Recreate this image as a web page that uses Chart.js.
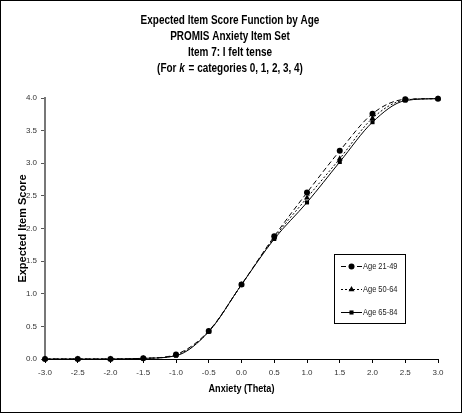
<!DOCTYPE html>
<html>
<head>
<meta charset="utf-8">
<script src="https://cdn.jsdelivr.net/npm/chart.js@4.4.1/dist/chart.umd.min.js"></script>
<style>
html,body{margin:0;padding:0;background:#fff;}
#wrap{position:absolute;left:0;top:0;width:463px;height:414px;}
</style>
</head>
<body>
<div id="wrap"><canvas id="c" width="463" height="414"></canvas></div>
<script>
const theta = [-3.0, -2.5, -2.0, -1.5, -1.0, -0.5, 0.0, 0.5, 1.0, 1.5, 2.0, 2.5, 3.0];
const age2149 = [0.00, 0.00, 0.00, 0.01, 0.07, 0.43, 1.14, 1.88, 2.55, 3.19, 3.76, 3.98, 3.99];
const age5064 = [0.00, 0.00, 0.00, 0.01, 0.06, 0.42, 1.14, 1.86, 2.47, 3.07, 3.69, 3.97, 3.99];
const age6584 = [0.00, 0.00, 0.00, 0.01, 0.05, 0.42, 1.14, 1.84, 2.40, 3.02, 3.63, 3.96, 3.99];
const seriesLabels = ["Age 21-49", "Age 50-64", "Age 65-84"];
const titleLines = ["Expected Item Score Function by Age", "PROMIS Anxiety Item Set", "Item 7: I felt tense"];
const xTitle = "Anxiety (Theta)";
const yTitle = "Expected Item Score";
const yTicks = [0, 0.5, 1.0, 1.5, 2.0, 2.5, 3.0, 3.5, 4.0];

const REG = "'Liberation Sans', Arial, sans-serif";
const SQ = 0.83; // horizontal squeeze to mimic a narrow face

function pts(ys){ return theta.map((x,i)=>({x:x,y:ys[i]})); }

const styles = [
  {dash:[5,3], pointStyle:'circle', radius:3},
  {dash:[2,2], pointStyle:'triangle', radius:3.4},
  {dash:[], pointStyle:'rect', radius:2.9}
];
const allSeries = [age2149, age5064, age6584];

const datasets = allSeries.map((s,i)=>({
  label: seriesLabels[i],
  data: pts(s),
  borderColor:'#000',
  backgroundColor:'#000',
  borderWidth:1,
  borderDash: styles[i].dash,
  pointStyle: styles[i].pointStyle,
  pointRadius: styles[i].radius,
  pointBorderWidth: 0,
  cubicInterpolationMode:'monotone',
  clip:false
}));

function squeezed(ctx, text, x, y, align){
  ctx.save();
  ctx.translate(x, y);
  ctx.scale(SQ, 1);
  ctx.textAlign = align || 'center';
  ctx.fillText(text, 0, 0);
  ctx.restore();
}

const decor = {
  id:'decor',
  afterDraw(chart){
    const ctx = chart.ctx;
    ctx.save();
    // outer frame
    ctx.strokeStyle = '#000';
    ctx.lineWidth = 1;
    ctx.strokeRect(0.5, 0.5, 461, 412);
    // title
    ctx.fillStyle = '#000';
    ctx.textBaseline = 'middle';
    ctx.font = "bold 12px " + REG;
    const cx = 230;
    const ys = [21, 37, 53];
    titleLines.forEach((t,i)=>squeezed(ctx, t, cx, ys[i], 'center'));
    // line 4 with italic k
    const p1 = "(For ", p2 = "k", p3 = " = categories 0, 1, 2, 3, 4)";
    ctx.font = "bold 12px " + REG;
    const w1 = ctx.measureText(p1).width * SQ, w3 = ctx.measureText(p3).width * SQ;
    ctx.font = "bold italic 12px " + REG;
    const w2 = ctx.measureText(p2).width * SQ + 1;
    const x0 = cx - (w1+w2+w3)/2;
    ctx.font = "bold 12px " + REG;
    squeezed(ctx, p1, x0, 69, 'left');
    ctx.font = "bold italic 12px " + REG;
    squeezed(ctx, p2, x0 + w1, 69, 'left');
    ctx.font = "bold 12px " + REG;
    squeezed(ctx, p3, x0 + w1 + w2, 69, 'left');
    // x axis title
    const xs = chart.scales.x;
    ctx.font = "bold 11px " + REG;
    squeezed(ctx, xTitle, (xs.left + xs.right)/2, 389, 'center');
    // legend box
    const bx = 334.5, by = 254.5, bw = 71, bh = 69;
    ctx.fillStyle = '#fff';
    ctx.fillRect(bx, by, bw, bh);
    ctx.strokeStyle = '#000';
    ctx.lineWidth = 1;
    ctx.strokeRect(bx, by, bw, bh);
    const rows = [266, 289, 312];
    chart.data.datasets.forEach((ds,i)=>{
      const y = rows[i] + 0.5;
      ctx.strokeStyle = '#000';
      ctx.lineWidth = 1;
      ctx.setLineDash(ds.borderDash);
      ctx.beginPath();
      ctx.moveTo(341, y);
      ctx.lineTo(362, y);
      ctx.stroke();
      ctx.setLineDash([]);
      ctx.fillStyle = '#000';
      Chart.helpers.drawPoint(ctx, {pointStyle: ds.pointStyle, radius: ds.pointRadius, rotation:0, borderWidth:0}, 351.5, y);
      ctx.fillStyle = '#222';
      ctx.textBaseline = 'middle';
      ctx.font = "9px " + REG;
      squeezed(ctx, ds.label, 363, y, 'left');
    });
    ctx.restore();
  }
};

new Chart(document.getElementById('c'), {
  type:'line',
  data:{datasets:datasets},
  options:{
    responsive:false,
    animation:false,
    devicePixelRatio:1,
    layout:{padding:{top:98, right:25, bottom:0, left:0}},
    plugins:{legend:{display:false}, title:{display:false}, tooltip:{enabled:false}},
    scales:{
      x:{
        type:'linear', min:-3, max:3,
        afterFit(s){ s.height = 55; },
        afterBuildTicks(s){ s.ticks = theta.map(v=>({value:v})); },
        ticks:{color:'#333', font:{family:REG, size:8}, padding:5, maxRotation:0, autoSkip:false,
          callback:(v)=>Number(v).toFixed(1)},
        grid:{display:true, drawOnChartArea:false, drawTicks:true, tickLength:4, color:'#000'},
        border:{display:true, color:'#000', width:1},
        title:{display:false, text:xTitle}
      },
      y:{
        type:'linear', min:0, max:4,
        afterFit(s){ s.width = 45; },
        afterBuildTicks(s){ s.ticks = yTicks.map(v=>({value:v})); },
        ticks:{color:'#333', font:{family:REG, size:8}, padding:4, autoSkip:false,
          callback:(v)=>Number(v).toFixed(1)},
        grid:{display:true, drawOnChartArea:false, drawTicks:true, tickLength:4, color:'#555'},
        border:{display:true, color:'#777', width:2},
        title:{display:true, text:yTitle, color:'#000', font:{family:REG, size:11, weight:'bold'}, padding:{top:16,bottom:0}}
      }
    }
  },
  plugins:[decor]
});
</script>
</body>
</html>
